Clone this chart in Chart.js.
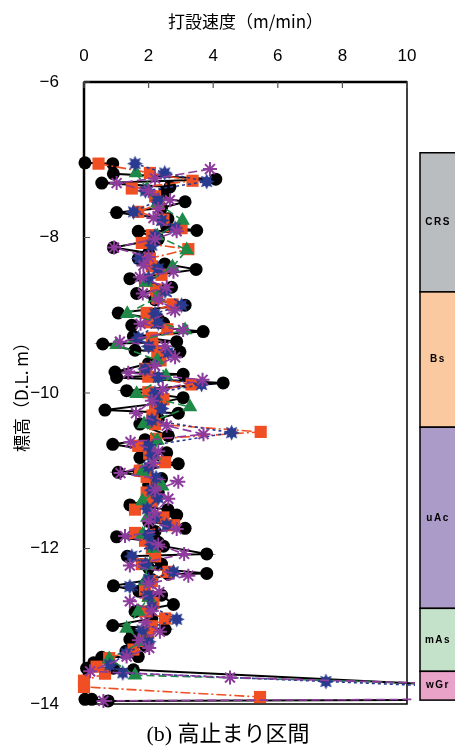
<!DOCTYPE html>
<html>
<head>
<meta charset="utf-8">
<script src="https://cdn.jsdelivr.net/npm/chart.js@4.4.1/dist/chart.umd.min.js"></script>
<style>
    html, body { margin: 0; padding: 0; background: #fff; }
    #wrap { width: 455px; height: 747px; position: relative; }
</style>
</head>
<body>
<div id="wrap"><canvas id="speed_chart"></canvas></div>
<script>
// 打設速度 (m/min) vs 標高 (D.L. m), 5 piles
const blackDepth = [
    -7.04, -7.05, -7.18, -7.25, -7.30, -7.35, -7.42, -7.48, -7.54, -7.62,
    -7.68, -7.76, -7.86, -7.91, -7.92, -8.02, -8.13, -8.20, -8.27, -8.34,
    -8.41, -8.53, -8.64, -8.72, -8.80, -8.87, -8.97, -9.05, -9.10, -9.13,
    -9.21, -9.27, -9.34, -9.37, -9.45, -9.47, -9.55, -9.62, -9.73, -9.76,
    -9.80, -9.87, -9.97, -10.06, -10.14, -10.22, -10.26, -10.33, -10.40, -10.55,
    -10.60, -10.66, -10.77, -10.83, -10.91, -11.00, -11.02, -11.10, -11.18, -11.28,
    -11.36, -11.44, -11.50, -11.57, -11.65, -11.74, -11.78, -11.85, -11.92, -11.97,
    -12.07, -12.10, -12.20, -12.25, -12.32, -12.33, -12.40, -12.48, -12.55, -12.60,
    -12.72, -12.81, -12.90, -12.99, -13.04, -13.10, -13.17, -13.25, -13.32, -13.39,
    -13.40, -13.47, -13.54, -13.54, -13.56, -13.74, null, -13.94, -13.94, -13.96, -13.95
];
const blackSpeed = [
    0.03, 0.89, 0.91, 4.08, 0.55, 2.66, 2.50, 2.20, 3.13, 2.40,
    1.01, 2.60, 2.56, 3.49, 1.68, 2.30, 0.91, 2.00, 1.68, 2.50,
    3.47, 1.42, 2.71, 1.63, 2.20, 3.13, 1.06, 2.30, 2.46, 1.48,
    3.69, 1.53, 2.87, 0.58, 1.58, 2.97, 2.30, 2.00, 0.96, 3.07,
    1.01, 4.31, 1.32, 3.07, 2.20, 0.65, 2.92, 2.30, 1.73, 2.61,
    1.89, 0.89, 2.56, 1.73, 2.92, 1.71, 1.06, 2.40, 2.00, 2.30,
    2.10, 1.42, 2.60, 2.87, 2.00, 3.13, 2.20, 1.01, 2.30, 2.46,
    3.80, 1.34, 2.40, 2.00, 3.80, 2.61, 2.10, 0.91, 1.70, 2.40,
    2.77, 1.58, 2.10, 0.89, 2.51, 1.50, 1.42, 1.90, 1.30, 1.68,
    0.55, 0.30, 0.08, 0.91, 1.53, 10.4, null, 0.03, 0.24, 0.75, 10.0
];

const orangeDepth = [
    -7.05, -7.17, -7.27, -7.37, -7.47, -7.57, -7.67, -7.77, -7.88, -7.97,
    -8.07, -8.15, -8.27, -8.37, -8.48, -8.56, -8.67, -8.78, -8.86, -8.97,
    -9.09, -9.18, -9.29, -9.39, -9.48, -9.58, -9.69, -9.79, -9.89, -9.99,
    -10.08, -10.18, -10.29, -10.40, -10.50, -10.59, -10.68, -10.78, -10.89, -11.00,
    -11.08, -11.19, -11.28, -11.39, -11.50, -11.60, -11.70, -11.80, -11.90, -12.00,
    -12.10, -12.20, -12.30, -12.42, -12.53, -12.61, -12.70, -12.81, -12.90, -13.00,
    -13.09, -13.19, -13.30, -13.41, -13.52, -13.61, -13.70, -13.78, -13.91
];
const orangeSpeed = [
    0.45, 2.04, 3.36, 1.48, 2.20, 2.30, 1.68, 2.46, 3.02, 2.10,
    1.79, 3.23, 2.04, 2.10, 2.40, 1.89, 2.23, 2.27, 2.74, 1.94,
    2.04, 2.58, 2.10, 2.12, 2.27, 2.37, 1.89, 1.99, 3.33, 1.99,
    2.46, 2.20, 2.12, 2.20, 5.47, 2.23, 1.68, 2.02, 2.51, 1.73,
    1.94, 2.20, 1.94, 2.10, 1.58, 2.46, 2.79, 1.58, 1.89, 2.10,
    2.20, 1.79, 2.61, 2.10, 1.89, 1.99, 2.15, 1.89, 2.51, 2.10,
    1.99, 1.84, 1.53, 0.78, 0.39, 0.65, 0.00, 0.00, 5.45
];

const greenDepth = [
    -7.17, -7.38, -7.56, -7.78, -7.98, -8.16, -8.38, -8.58, -8.77, -8.98,
    -9.19, -9.38, -9.58, -9.78, -10.01, -10.18, -10.40, -10.61, -10.80, -11.01,
    -11.20, -11.39, -11.60, -11.82, -12.00, -12.22, -12.42, -12.63, -12.81, -13.03,
    -13.20, -13.42, -13.63, -13.73
];
const greenSpeed = [
    1.61, 1.96, 2.27, 3.05, 2.27, 3.18, 2.74, 1.92, 2.27, 1.34,
    3.13, 1.01, 2.27, 2.54, 1.63, 3.28, 1.86, 2.27, 2.17, 1.81,
    2.42, 1.81, 1.96, 1.81, 2.15, 1.96, 1.89, 2.00, 1.68, 1.32,
    1.81, 0.78, 1.58, 10.4
];

const blueDepth = [
    -7.05, -7.17, -7.28, -7.40, -7.52, -7.67, -7.78, -7.88, -7.98, -8.10,
    -8.27, -8.40, -8.52, -8.69, -8.87, -8.98, -9.10, -9.29, -9.40, -9.48,
    -9.69, -9.80, -9.89, -10.00, -10.08, -10.20, -10.35, -10.51, -10.68, -10.80,
    -10.95, -11.09, -11.25, -11.35, -11.49, -11.60, -11.70, -11.82, -11.95, -12.10,
    -12.20, -12.30, -12.40, -12.49, -12.60, -12.75, -12.91, -13.05, -13.20, -13.35,
    -13.50, -13.60, -13.71, -13.76
];
const blueSpeed = [
    1.58, 2.50, 3.80, 1.90, 2.30, 1.53, 2.40, 2.82, 2.20, 2.10,
    1.71, 2.30, 2.00, 2.51, 3.02, 2.20, 2.30, 1.68, 2.00, 2.61,
    1.89, 2.30, 3.64, 2.20, 2.20, 2.40, 2.10, 4.57, 1.99, 2.10,
    2.00, 2.23, 2.10, 2.30, 1.96, 2.20, 2.56, 2.00, 2.10, 1.48,
    1.90, 2.77, 2.00, 1.42, 2.00, 2.10, 2.87, 1.80, 2.00, 1.30,
    0.80, 1.20, 7.49, 10.4
];

const purpleDepth = [
    -7.12, -7.24, -7.30, -7.40, -7.52, -7.63, -7.75, -7.92, -8.02, -8.13,
    -8.25, -8.36, -8.44, -8.51, -8.64, -8.72, -8.80, -8.94, -9.11, -9.19,
    -9.34, -9.40, -9.54, -9.65, -9.74, -9.83, -9.95, -10.10, -10.26, -10.42,
    -10.53, -10.63, -10.75, -10.90, -11.03, -11.14, -11.25, -11.36, -11.54, -11.65,
    -11.75, -11.84, -11.95, -12.07, -12.22, -12.35, -12.45, -12.56, -12.68, -12.80,
    -12.95, -13.07, -13.18, -13.28, -13.39, -13.58, -13.66, -13.73, null, -13.96, -13.94
];
const purpleSpeed = [
    3.90, 2.20, 1.01, 2.00, 2.66, 2.30, 2.15, 2.87, 2.20, 0.93,
    2.00, 1.84, 2.77, 1.73, 2.56, 1.82, 2.30, 2.82, 1.75, 3.07,
    1.11, 2.51, 2.82, 2.20, 1.37, 3.67, 2.44, 2.10, 1.61, 2.56,
    3.70, 1.44, 2.30, 2.15, 1.13, 2.92, 2.20, 2.61, 2.20, 2.00,
    2.87, 1.27, 2.30, 3.10, 1.42, 3.23, 2.00, 2.33, 1.42, 2.10,
    1.90, 2.35, 1.70, 2.02, 1.32, 0.19, 4.52, 10.4, null, 0.60, 10.4
];

// soil column on the right
const layerNames = ['CRS', 'Bs', 'uAc', 'mAs', 'wGr'];
const layerTop = [-6.91, -8.70, -10.44, -12.77, -13.58];
const layerBottom = [-8.70, -10.44, -12.77, -13.58, -13.95];
const layerColors = ['#b9bdc0', '#fbc9a0', '#ab9bc9', '#c4e2c9', '#eaa3c8'];

function toPoints(speed, depth) {
    return speed.map((s, i) => ({x: s, y: depth[i]}));
}

// no marker on the points at the axis end (line only)
function markerRadius(r) {
    return function (ctx) {
        return ctx.raw && ctx.raw.x >= 10 ? 0 : r;
    };
}

function starMarker(color) {
    const c = document.createElement('canvas');
    c.width = 17;
    c.height = 17;
    const g = c.getContext('2d');
    g.fillStyle = color;
    g.beginPath();
    for (let i = 0; i < 16; i++) {
        const r = i % 2 === 0 ? 8 : 4.6;
        const a = i * Math.PI / 8 - Math.PI / 2;
        g.lineTo(8.5 + r * Math.cos(a), 8.5 + r * Math.sin(a));
    }
    g.closePath();
    g.fill();
    return c;
}

const clipArea = {left: 10, top: 10, right: 8, bottom: 10};

const frameAndTicks = {
    id: 'frameAndTicks',
    beforeDatasetsDraw(chart) {
        const {ctx, chartArea: a, scales} = chart;
        ctx.save();
        ctx.strokeStyle = '#000';
        ctx.lineWidth = 1.5;
        ctx.strokeRect(a.left, a.top, a.right - a.left, a.bottom - a.top);
        ctx.lineWidth = 2.5;
        ctx.beginPath();
        ctx.moveTo(a.left, a.top);
        ctx.lineTo(a.left, a.bottom);
        ctx.moveTo(a.left, a.top);
        ctx.lineTo(a.right, a.top);
        ctx.stroke();
        ctx.strokeStyle = '#555';
        ctx.lineWidth = 1.2;
        ctx.beginPath();
        scales.x.ticks.forEach(t => {
            const px = scales.x.getPixelForValue(t.value);
            ctx.moveTo(px, a.top);
            ctx.lineTo(px, a.top + 6);
        });
        scales.y.ticks.forEach(t => {
            const py = scales.y.getPixelForValue(t.value);
            ctx.moveTo(a.left, py);
            ctx.lineTo(a.left + 6, py);
        });
        ctx.stroke();
        ctx.restore();
    },
    afterDraw(chart) {
        const {ctx, chartArea: a, scales} = chart;
        ctx.save();
        const x0 = a.right + 13;
        layerNames.forEach((name, i) => {
            const y1 = scales.y.getPixelForValue(layerTop[i]);
            const y2 = scales.y.getPixelForValue(layerBottom[i]);
            ctx.fillStyle = layerColors[i];
            ctx.fillRect(x0, y1, 60, y2 - y1);
            ctx.strokeStyle = '#000';
            ctx.lineWidth = 1.5;
            ctx.strokeRect(x0, y1, 60, y2 - y1);
            ctx.fillStyle = '#000';
            ctx.font = 'bold 10px "Liberation Sans", Arial';
            ctx.letterSpacing = '1.5px';
            ctx.textAlign = 'center';
            ctx.textBaseline = 'middle';
            ctx.fillText(name, x0 + 18, (y1 + y2) / 2);
        });
        ctx.letterSpacing = '0px';
        ctx.font = '22px "Liberation Serif", "Noto Sans CJK JP"';
        ctx.textAlign = 'center';
        ctx.textBaseline = 'middle';
        ctx.fillText('(b) 高止まり区間', 228, 735);
        ctx.restore();
    }
};

const tickFont = {family: '"Liberation Sans", Arial', size: 17};
const titleFont = {family: '"Noto Sans CJK JP", sans-serif', size: 17};

const ctxSpeed = document.getElementById('speed_chart').getContext('2d');
const speedChart = new Chart(ctxSpeed, {
    type: 'scatter',
    data: {
        datasets: [{
            label: 'purple',
            data: toPoints(purpleSpeed, purpleDepth),
            showLine: true,
            borderColor: '#8d3b9c',
            borderWidth: 1.6,
            borderDash: [9, 4],
            pointStyle: 'star',
            pointRadius: markerRadius(7),
            pointBorderColor: '#8d3b9c',
            pointBorderWidth: 2,
            pointBackgroundColor: '#8d3b9c',
            clip: clipArea,
            order: 1
        }, {
            label: 'blue',
            data: toPoints(blueSpeed, blueDepth),
            showLine: true,
            borderColor: '#2a3a8f',
            borderWidth: 1.6,
            borderDash: [3, 3],
            pointStyle: starMarker('#2a3a8f'),
            pointRadius: markerRadius(7),
            clip: clipArea,
            order: 2
        }, {
            label: 'green',
            data: toPoints(greenSpeed, greenDepth),
            showLine: true,
            borderColor: '#1f8a47',
            borderWidth: 1.6,
            borderDash: [8, 4],
            pointStyle: 'triangle',
            pointRadius: markerRadius(8.5),
            pointBorderWidth: 0,
            pointBackgroundColor: '#1f8a47',
            clip: clipArea,
            order: 3
        }, {
            label: 'orange',
            data: toPoints(orangeSpeed, orangeDepth),
            showLine: true,
            borderColor: '#f04e23',
            borderWidth: 1.6,
            borderDash: [10, 3, 2, 3],
            pointStyle: 'rect',
            pointRadius: markerRadius(8.6),
            pointBorderWidth: 0,
            pointBackgroundColor: '#f04e23',
            clip: clipArea,
            order: 4
        }, {
            label: 'black',
            data: toPoints(blackSpeed, blackDepth),
            showLine: true,
            borderColor: '#000',
            borderWidth: 2,
            pointStyle: 'circle',
            pointRadius: markerRadius(6.5),
            pointBorderWidth: 0,
            pointBackgroundColor: '#000',
            clip: clipArea,
            order: 5
        }]
    },
    options: {
        responsive: true,
        maintainAspectRatio: false,
        animation: false,
        devicePixelRatio: 1,
        layout: {padding: {top: 0, left: 0, right: 48, bottom: 43}},
        plugins: {
            legend: {display: false},
            tooltip: {enabled: false}
        },
        scales: {
            x: {
                type: 'linear',
                position: 'top',
                min: 0,
                max: 10,
                grid: {display: false},
                border: {display: false},
                ticks: {stepSize: 2, color: '#000', font: tickFont, padding: 7},
                title: {
                    display: true,
                    text: '打設速度（m/min）',
                    color: '#000',
                    font: titleFont,
                    padding: {top: 11, bottom: 0}
                },
                afterFit: function (scale) {
                    scale.height = 82;
                }
            },
            y: {
                type: 'linear',
                min: -14,
                max: -6,
                grid: {display: false},
                border: {display: false},
                ticks: {
                    stepSize: 2,
                    color: '#000',
                    font: tickFont,
                    padding: 17,
                    callback: function (value) {
                        return String(value).replace('-', '\u2212');
                    }
                },
                title: {
                    display: true,
                    text: '標高（D.L. m）',
                    color: '#000',
                    font: titleFont,
                    padding: {top: 11, bottom: 0}
                },
                afterFit: function (scale) {
                    scale.width = 84;
                }
            }
        }
    },
    plugins: [frameAndTicks]
});
</script>
</body>
</html>
